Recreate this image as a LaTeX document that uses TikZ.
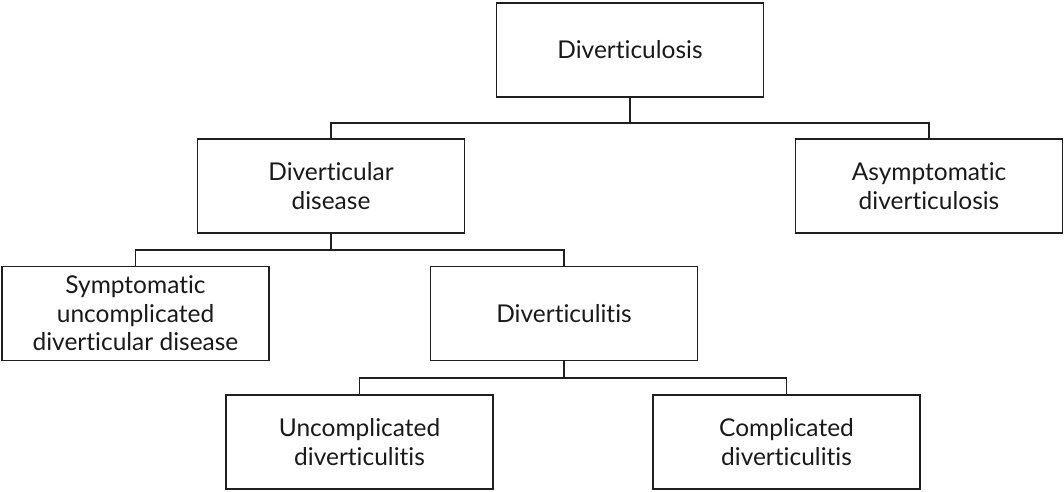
\documentclass[tikz,border=0pt]{standalone}
\usepackage{fontspec}
\setmainfont{Lato}[Ligatures={NoCommon,NoRare}]
\begin{document}
\begin{tikzpicture}[x=1pt,y=-1pt,
  box/.style={draw=black!88,line width=1.6pt,minimum width=267pt,minimum height=94pt,
    align=center,font=\fontsize{24.5}{28.5}\selectfont,text=black!90,inner sep=0pt},
  link/.style={draw=black!88,line width=1.6pt}]
\useasboundingbox (0,0) rectangle (1064,491);
\node[box] (dlosis) at (630,50) {Diverticulosis};
\node[box] (ddis) at (331,186) {Diverticular\\disease};
\node[box] (asym) at (929,186) {Asymptomatic\\diverticulosis};
\node[box] (symp) at (135.5,313.5) {Symptomatic\\uncomplicated\\diverticular disease};
\node[box] (ditis) at (564,313.5) {Diverticulitis};
\node[box] (uncomp) at (359.5,442) {Uncomplicated\\diverticulitis};
\node[box] (comp) at (786.5,442) {Complicated\\diverticulitis};
\coordinate (j1) at (630,123);
\coordinate (j2) at (331,250);
\coordinate (j3) at (564,378);
\draw[link] (dlosis.south) -- (j1);
\draw[link] (ddis.north) |- (j1) -| (asym.north);
\draw[link] (ddis.south) -- (j2);
\draw[link] (symp.north) |- (j2) -| (ditis.north);
\draw[link] (ditis.south) -- (j3);
\draw[link] (uncomp.north) |- (j3) -| (comp.north);
\end{tikzpicture}
\end{document}
